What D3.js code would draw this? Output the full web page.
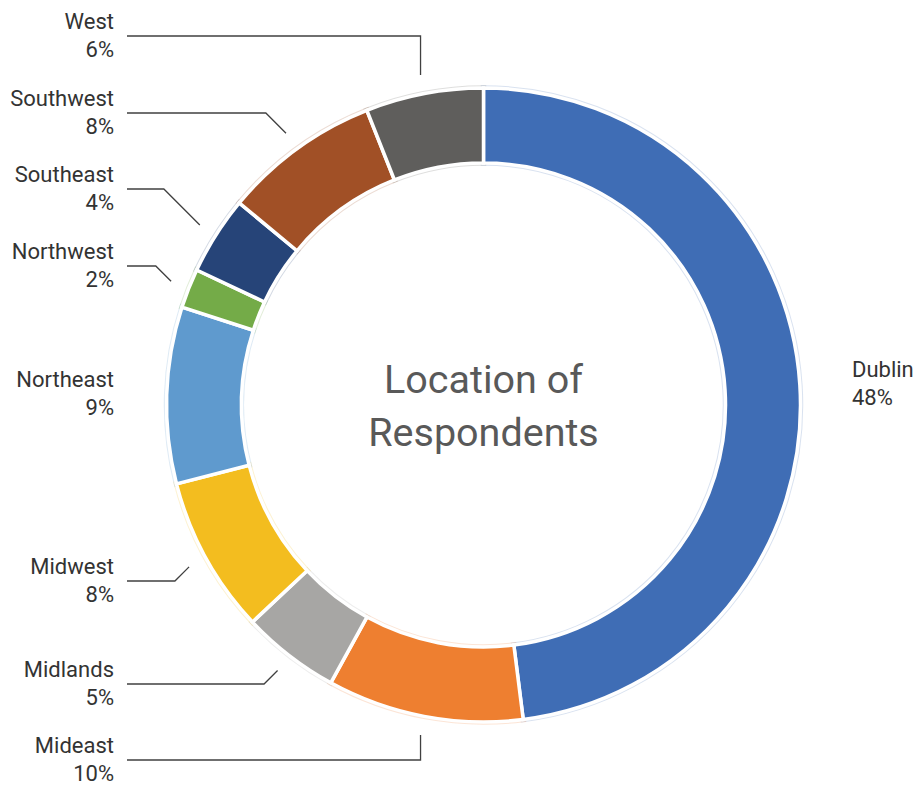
<!DOCTYPE html>
<html>
<head>
<meta charset="utf-8">
<script src="https://cdn.jsdelivr.net/npm/d3@7/dist/d3.min.js"></script>
<style>
  body { margin: 0; background: #fff; }
  svg { display: block; font-family: Roboto, "Noto Sans", sans-serif; }
  .lbl { font-size: 22px; fill: #333; }
  .ttl { font-size: 39.5px; fill: #595959; }
  .lead { fill: none; stroke: #404040; stroke-width: 1.3; }
</style>
</head>
<body>
<div id="chart"></div>
<script>
// data, clockwise from 12 o'clock
var regions = ["Dublin", "Mideast", "Midlands", "Midwest", "Northeast", "Northwest", "Southeast", "Southwest", "West"];
var shares = [48, 10, 5, 8, 9, 2, 4, 8, 6];
var colours = ["#3F6DB5", "#EE7F30", "#A7A6A4", "#F3BD1F", "#5F9ACE", "#74AB48", "#264478", "#A15026", "#5F5E5C"];
var titleLines = ["Location of", "Respondents"];

(function () {
  'use strict'
  var W = 917, H = 785;
  var cx = 483.5, cy = 405;
  var outerR = 317, innerR = 242;
  var labelRight = 114;

  // where each label block sits (y of the leader line) and how the leader bends
  var labelPos = {
    "West":      { y: 36,  bend: "v" },
    "Southwest": { y: 113, bend: "d" },
    "Southeast": { y: 189, bend: "d" },
    "Northwest": { y: 266, bend: "d" },
    "Northeast": { y: 394, bend: "none" },
    "Midwest":   { y: 581, bend: "d" },
    "Midlands":  { y: 684, bend: "d" },
    "Mideast":   { y: 760, bend: "v" }
  };

  var data = regions.map(function (r, i) { return { name: r, value: shares[i], color: colours[i] }; });

  var svg = d3.select("#chart").append("svg")
    .attr("width", W).attr("height", H);

  var g = svg.append("g").attr("transform", "translate(" + cx + "," + cy + ")");

  var pie = d3.pie().value(function (d) { return d.value; }).sort(null);
  var arcs = pie(data);

  var arc = d3.arc().innerRadius(innerR).outerRadius(outerR);

  // faint coloured halo round each slice
  g.selectAll(".halo")
    .data(arcs)
    .enter().append("path")
    .attr("class", "halo")
    .attr("d", arc)
    .attr("fill", "none")
    .attr("stroke", function (d) { return d.data.color; })
    .attr("stroke-opacity", 0.2)
    .attr("stroke-width", 5.5);

  g.selectAll(".slice")
    .data(arcs)
    .enter().append("path")
    .attr("class", "slice")
    .attr("d", arc)
    .attr("fill", function (d) { return d.data.color; })
    .attr("stroke", "#fff")
    .attr("stroke-width", 3.5);

  // title in the hole
  svg.append("g").selectAll("text")
    .data(titleLines)
    .enter().append("text")
    .attr("class", "ttl")
    .attr("x", cx)
    .attr("y", function (d, i) { return 393 + i * 53; })
    .attr("text-anchor", "middle")
    .text(function (d) { return d; });

  var leadR = 336;
  var lines = svg.append("g");
  var labels = svg.append("g");

  arcs.forEach(function (a) {
    var name = a.data.name;
    var mid = (a.startAngle + a.endAngle) / 2;
    var ex = cx + leadR * Math.sin(mid), ey = cy - leadR * Math.cos(mid);

    if (name == "Dublin") {
      var t = labels.append("text").attr("class", "lbl").attr("x", 852).attr("y", 377);
      t.append("tspan").attr("x", 852).text(name);
      t.append("tspan").attr("x", 852).attr("dy", 28).text(a.data.value + "%");
      return;
    }

    var lp = labelPos[name];
    if (lp.bend == "v") {
      lines.append("path").attr("class", "lead")
        .attr("d", "M" + (labelRight + 13) + "," + lp.y + "H" + ex + "V" + ey);
    } else if (lp.bend == "d") {
      var elbowX = ex - Math.abs(lp.y - ey);
      lines.append("path").attr("class", "lead")
        .attr("d", "M" + (labelRight + 13) + "," + lp.y + "H" + elbowX + "L" + ex + "," + ey);
    }

    var t2 = labels.append("text").attr("class", "lbl")
      .attr("text-anchor", "end")
      .attr("y", lp.y - 7);
    t2.append("tspan").attr("x", labelRight).text(name);
    t2.append("tspan").attr("x", labelRight).attr("dy", 28).text(a.data.value + "%");
  });
})()
</script>
</body>
</html>
